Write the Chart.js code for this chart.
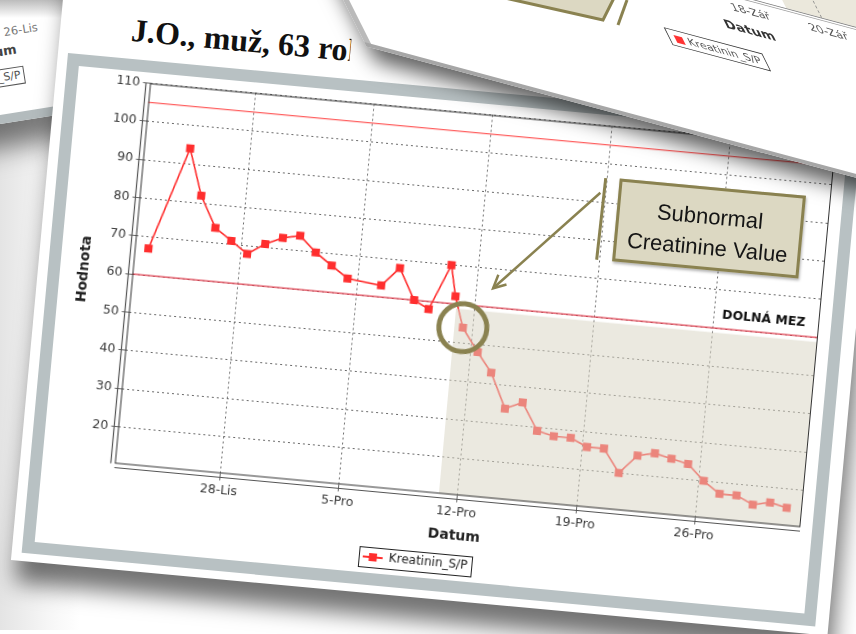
<!DOCTYPE html>
<html>
<head>
<meta charset="utf-8">
<script src="https://cdn.jsdelivr.net/npm/chart.js@4.4.0/dist/chart.umd.min.js"></script>
<style>
html, body { margin: 0; padding: 0; }
body { width: 856px; height: 634px; overflow: hidden; position: relative; background: #fff; font-family: 'DejaVu Sans', sans-serif; }
.abs { position: absolute; }
#leftfade { left: 0; top: 110px; width: 80px; height: 520px; background: linear-gradient(to right, #e4e4e4, #f6f6f6 60%, #fff); z-index: 0; }
#tl { left: -100px; top: -176px; width: 300px; height: 300px; background: #fff; transform-origin: 100px 300px; transform: rotate(-9deg);
      border-bottom: 9px solid #b3bbbd; box-sizing: border-box; box-shadow: 0 24px 26px rgba(0,0,0,.5); z-index: 1; }
#topfade { left: 0; top: 0; width: 220px; height: 18px; background: linear-gradient(#bcbcbc, rgba(255,255,255,0)); z-index: 2; }
#main { left: 68px; top: 53px; width: 797px; height: 502px; transform-origin: 0 0; transform: rotate(5.3deg); z-index: 3; }
#paper { left: -10px; top: -95px; width: 820px; height: 605px; background: #fff; box-shadow: 6px 22px 22px rgba(0,0,0,.55); }
#title { left: 61px; top: -46px; width: 220px; overflow: hidden; font: bold 32px 'Liberation Serif', serif; white-space: nowrap; color: #111; line-height: 34px; }
#frame { left: 0; top: 0; width: 797px; height: 502px; box-sizing: border-box; border: 12px solid #b8c1c3; background: #fff; }
#chart { position: absolute; left: 0; top: 0; }
#callout { left: 561px; top: 74px; width: 187px; height: 83px; box-sizing: border-box; border: 3px solid #8a8250; background: #dcd8c2;
           font: 22px 'Liberation Sans', Arial, sans-serif; color: #151515; text-align: center; line-height: 31px; padding-top: 11px;
           box-shadow: 1px 2px 3px rgba(0,0,0,.3); }
#tr { left: 258.5px; top: -167.6px; width: 700px; height: 240px; transform-origin: 0 0; transform: matrix(0.966, 0.259, 0.448, 0.894, 0, 0);
      background: #fff; box-shadow: 2px 16px 20px rgba(0,0,0,.62); z-index: 4; }
#over { left: 0; top: 0; z-index: 5; }
.small { font-size: 12px; color: #555; white-space: nowrap; }
</style>
</head>
<body>

<div id="leftfade" class="abs"></div>

<div id="tl" class="abs">
  <div class="abs small" style="left:118px; top:203px; font-size:11.5px; color:#777;">26-Lis</div>
  <div class="abs" style="left:48px; top:221px; width:80px; text-align:right; font:bold 13px 'DejaVu Sans'; color:#444;">Datum</div>
  <div class="abs small" style="left:30px; top:246px; width:102px; height:18px; box-sizing:border-box; border:1px solid #555; font-size:11px; line-height:16px; text-align:right; padding-right:3px; color:#555;"><span style="color:#f33">■</span> Kreatinin_S/P</div>
</div>
<div id="topfade" class="abs"></div>

<div id="main" class="abs">
  <div id="paper" class="abs"></div>
  <div id="title" class="abs">J.O., muž, 63 roků</div>
  <div id="frame" class="abs">
    <canvas id="chart" width="773" height="478"></canvas>
  </div>
  <svg class="abs" style="left:0; top:0; overflow:visible;" width="797" height="502">
    <line x1="547" y1="75" x2="545.5" y2="157" stroke="#8a8250" stroke-width="3"/>
    <line x1="543" y1="90" x2="445" y2="195" stroke="#8a8250" stroke-width="2.5"/>
    <polyline points="458,190 445,195 449,181" fill="none" stroke="#8a8250" stroke-width="2.5"/>
  </svg>
  <div id="callout" class="abs">Subnormal<br>Creatinine Value</div>
</div>

<div id="tr" class="abs">
  <div class="abs" style="left:0; top:0; width:7px; height:240px; background:#bababa;"></div>
  <div class="abs" style="left:0; top:235px; width:700px; height:5px; background:#a6a6a6;"></div>
  <div class="abs" style="left:525px; top:0; width:175px; height:45px; background:#ebe8dc;"></div>
  <div class="abs" style="left:480px; top:0; width:0; height:45px; border-left:1px dashed #888;"></div>
  <div class="abs" style="left:561px; top:0; width:0; height:45px; border-left:1px dashed #888;"></div>
  <div class="abs" style="left:100px; top:45px; width:600px; height:1px; background:#777;"></div>
  <div class="abs" style="left:100px; top:48px; width:600px; height:1px; background:#999;"></div>
  <div class="abs small" style="left:455px; top:55px; width:50px; text-align:center;">18-Zář</div>
  <div class="abs" style="left:428px; top:78px; width:80px; text-align:center; font:bold 14px 'DejaVu Sans'; color:#333;">Datum</div>
  <div class="abs small" style="left:536px; top:54px; width:50px; text-align:center;">20-Zář</div>
  <div class="abs small" style="left:367px; top:112px; width:102px; height:20px; box-sizing:border-box; border:1px solid #333; font-size:11.5px; line-height:18px; text-align:center; color:#555;"><span style="color:#f33">■</span> Kreatinin_S/P</div>
</div>

<svg id="over" class="abs" width="856" height="634">
  <polygon points="505,-2 603,20 614,-2" fill="#dcd8c2" stroke="#8a8250" stroke-width="3"/>
  <line x1="627" y1="0" x2="618" y2="25" stroke="#8a8250" stroke-width="3"/>
</svg>

<script>
// dny od 28-Lis, hodnoty kreatininu
const days = [-5.4, -3.5, -2.6, -1.6, -0.6, 0.4, 1.4, 2.4, 3.4, 4.4, 5.4, 6.4, 8.4, 9.4, 10.4, 11.3, 12.4, 12.8, 13.4, 14.4,
              15.3, 16.3, 17.3, 18.3, 19.3, 20.3, 21.3, 22.3, 23.3, 24.3, 25.3, 26.3, 27.3, 28.3, 29.3, 30.3, 31.3, 32.3, 33.3];
const creatinine = [67, 94, 82, 74, 71, 68, 71, 73, 74, 70, 67, 64, 63, 68, 60, 58, 70, 62, 54, 48,
                    43, 34, 36, 29, 28, 28, 26, 26, 20, 25, 26, 25, 24, 20, 17, 17, 15, 16, 15];
const tickDays = [0, 7, 14, 21, 28];
const tickLabels = ['28-Lis', '5-Pro', '12-Pro', '19-Pro', '26-Pro'];
const upperLimit = 105;
const lowerLimit = 60;
const lowerLimitLabel = 'DOLNÁ MEZ';
const shadeFromDay = 12.9;
const shadeTopValue = 58.8;
const highlightIndex = 18;

const plotBottom = 392.5;
const red = '#ff2e2e';
const olive = '#8a8250';

Chart.defaults.font.family = "'DejaVu Sans', sans-serif";
Chart.defaults.color = '#3a3a3a';

// legend symbol: line + square
const legendMark = document.createElement('canvas');
legendMark.width = 20; legendMark.height = 10;
const lm = legendMark.getContext('2d');
lm.strokeStyle = red; lm.lineWidth = 2;
lm.beginPath(); lm.moveTo(0, 5); lm.lineTo(20, 5); lm.stroke();
lm.fillStyle = red; lm.fillRect(6, 1, 8, 8);

const decor = {
  id: 'decor',
  beforeDatasetsDraw(chart) {
    const {ctx, chartArea: a, scales: {y}} = chart;
    ctx.save();
    ctx.lineWidth = 1.3;
    ctx.strokeStyle = '#ff6060';
    let py = y.getPixelForValue(upperLimit);
    ctx.beginPath(); ctx.moveTo(a.left, py); ctx.lineTo(a.right, py); ctx.stroke();
    ctx.strokeStyle = '#e04050';
    py = y.getPixelForValue(lowerLimit);
    ctx.beginPath(); ctx.moveTo(a.left, py); ctx.lineTo(a.right, py); ctx.stroke();
    ctx.restore();
  },
  afterDatasetsDraw(chart) {
    const {ctx, chartArea: a, scales: {x, y}} = chart;
    ctx.save();
    // shaded subnormal area
    const sx = x.getPixelForValue(shadeFromDay);
    const sy = y.getPixelForValue(shadeTopValue);
    ctx.fillStyle = 'rgba(216,213,195,0.52)';
    ctx.fillRect(sx, sy, a.right - sx, a.bottom - sy);
    // highlight ring
    const pt = chart.getDatasetMeta(0).data[highlightIndex];
    ctx.strokeStyle = olive; ctx.lineWidth = 5;
    ctx.beginPath(); ctx.arc(pt.x, pt.y, 24, 0, Math.PI * 2); ctx.stroke();
    // label of lower limit
    ctx.fillStyle = '#111';
    ctx.font = "bold 12.5px 'DejaVu Sans'";
    ctx.textAlign = 'right';
    ctx.fillText(lowerLimitLabel, a.right - 14, y.getPixelForValue(lowerLimit) - 13);
    // plot outline and offset axis lines
    ctx.strokeStyle = '#333'; ctx.lineWidth = 1;
    ctx.strokeRect(a.left + 0.5, a.top + 0.5, a.right - a.left - 1, a.bottom - a.top - 1);
    ctx.strokeStyle = '#555'; ctx.lineWidth = 1.2;
    ctx.beginPath();
    ctx.moveTo(a.left - 4, a.top); ctx.lineTo(a.left - 4, a.bottom);
    ctx.moveTo(a.left, a.bottom + 4); ctx.lineTo(a.right, a.bottom + 4);
    ctx.stroke();
    ctx.restore();
  },
  afterDraw(chart) {
    const hb = chart.legend.legendHitBoxes[0];
    if (!hb) return;
    const ctx = chart.ctx;
    ctx.save();
    ctx.strokeStyle = '#222'; ctx.lineWidth = 1;
    ctx.strokeRect(Math.round(hb.left - 4) + 0.5, Math.round(hb.top - 4) + 0.5, Math.round(hb.width + 8), Math.round(hb.height + 8));
    ctx.restore();
  }
};

const gridOpts = { color: '#6a6a6a', lineWidth: 1, tickLength: 7, tickColor: '#666', tickBorderDash: [] };

new Chart(document.getElementById('chart'), {
  type: 'line',
  data: {
    datasets: [{
      label: 'Kreatinin_S/P',
      data: days.map((d, i) => ({x: d, y: creatinine[i]})),
      borderColor: red,
      backgroundColor: red,
      borderWidth: 1.6,
      pointStyle: 'rect',
      pointRadius: 5.7,
      pointBorderWidth: 0,
      tension: 0
    }]
  },
  options: {
    responsive: false,
    animation: false,
    layout: { padding: { top: 10.5, right: 12, left: 0, bottom: 0 } },
    plugins: {
      legend: {
        position: 'bottom',
        labels: { usePointStyle: true, pointStyle: legendMark, pointStyleWidth: 20, padding: 4, color: '#222', font: { size: 12 } }
      },
      tooltip: { enabled: false }
    },
    scales: {
      x: {
        type: 'linear',
        min: -6.2,
        max: 34.2,
        afterBuildTicks(axis) { axis.ticks = tickDays.map(v => ({value: v})); },
        afterFit(axis) { axis.height = axis.chart.height - axis.chart.legend.height - plotBottom; },
        ticks: {
          callback: v => { const i = tickDays.indexOf(v); return i < 0 ? '' : tickLabels[i]; },
          font: { size: 12.5 }, padding: 3, maxRotation: 0, autoSkip: false
        },
        grid: gridOpts,
        border: { display: false, dash: [2, 3] },
        title: { display: true, text: 'Datum', font: { size: 14, weight: 'bold' }, color: '#222', padding: { top: 0, bottom: 10 } }
      },
      y: {
        min: 10.3,
        max: 110,
        afterFit(axis) { axis.width = 72.5; },
        ticks: { stepSize: 10, includeBounds: false, font: { size: 12.5 }, padding: 3 },
        grid: gridOpts,
        border: { display: false, dash: [2, 3] },
        title: { display: true, text: 'Hodnota', font: { size: 14, weight: 'bold' }, color: '#222', padding: { top: 16, bottom: 0 } }
      }
    }
  },
  plugins: [decor]
});
</script>
</body>
</html>
